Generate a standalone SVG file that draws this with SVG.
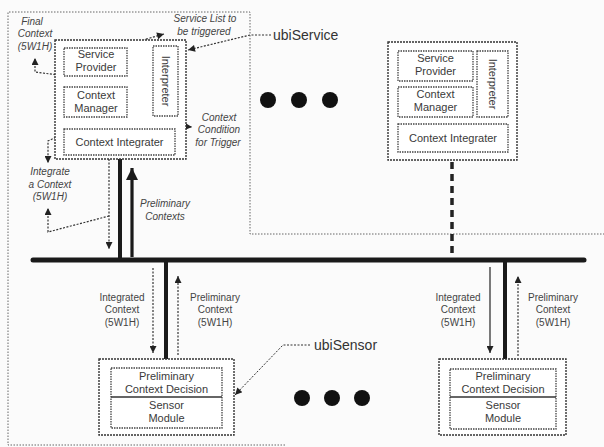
<svg xmlns="http://www.w3.org/2000/svg" width="604" height="447" viewBox="0 0 604 447">
<style>
.frame{fill:none;stroke:#666;stroke-width:1;stroke-dasharray:1.5 1.5}
.box{fill:#fff;stroke:#333;stroke-width:1.4;stroke-dasharray:2 1}
.ibox{fill:#fff;stroke:#444;stroke-width:1.3;stroke-dasharray:1.5 1}
.div{stroke:#333;stroke-width:1.4}
.t{font-family:"Liberation Sans",Arial,sans-serif;font-size:11px;fill:#3a3a3a;text-anchor:middle}
.l{font-family:"Liberation Sans",Arial,sans-serif;font-size:10px;fill:#444;text-anchor:middle}
.i{font-style:italic}
.big{font-family:"Liberation Sans",Arial,sans-serif;font-size:14px;fill:#333}
.dot{fill:#111}
.bus{stroke:#1a1a1a;stroke-width:5;stroke-linecap:round;fill:none}
.thick{stroke:#1a1a1a;stroke-width:4;fill:none}
.up{stroke:#1a1a1a;stroke-width:3.2;fill:none}
.dsh{stroke:#222;stroke-width:3.5;stroke-dasharray:7 5;fill:none}
.dl{stroke:#333;stroke-width:1.2;stroke-dasharray:2 1.5;fill:none}
.thin{stroke:#333;stroke-width:1;stroke-dasharray:2 1.5;fill:none}
.sl{stroke:#333;stroke-width:1.3;fill:none}
</style>
<defs>
<marker id="ah" viewBox="0 0 10 10" refX="10" refY="5" markerWidth="9" markerHeight="7" orient="auto" markerUnits="userSpaceOnUse"><path d="M0,0 L10,5 L0,10 z" fill="#222"/></marker>
<marker id="ahL" viewBox="0 0 10 10" refX="10" refY="5" markerWidth="17" markerHeight="12" orient="auto" markerUnits="userSpaceOnUse"><path d="M0,0 L10,5 L0,10 z" fill="#1a1a1a"/></marker>
<marker id="chev" viewBox="0 0 10 10" refX="9" refY="5" markerWidth="6" markerHeight="6" orient="auto" markerUnits="userSpaceOnUse"><path d="M0,0 L9,5 L0,10" fill="none" stroke="#333" stroke-width="1.5"/></marker>
</defs>
<rect width="604" height="447" fill="#fbfbfb"/>
<path class="frame" d="M285,445 H8 V12 H250 V234 H604"/>

<g id="connectors">
<path class="bus" d="M33,260 H584"/>
<path class="thick" d="M120,159 V260"/>
<path class="thick" d="M166,260 V360"/>
<path class="thick" d="M505,260 V360"/>
<path class="dsh" d="M452,162 V258"/>
<path class="dl" d="M109,159 V249" marker-end="url(#ah)"/>
<path class="up" d="M132,257 V168" marker-end="url(#ahL)"/>
<path class="dl" d="M109,216 L48,232 V208" marker-end="url(#ah)"/>
<path class="dl" d="M97,118 L48,141 V163" marker-end="url(#ah)"/>
<path class="dl" d="M97,80 L35,72 V58" marker-end="url(#ah)"/>
<path class="dl" d="M97,87 V76" marker-end="url(#chev)"/>
<path class="dl" d="M97,129 V118" marker-end="url(#chev)"/>
<path class="sl" d="M153,61 H128" marker-end="url(#ah)"/>
<path class="dl" d="M153,100 H128" marker-end="url(#ah)"/>
<path class="dl" d="M140,100 V124 L192,127" marker-end="url(#ah)"/>
<path class="dl" d="M140,61 V46 Q141,40 150,38 L164,34" marker-end="url(#ah)"/>
<path class="dl" d="M271,35 H250 L188,50" marker-end="url(#ah)"/>
<path class="dl" d="M153,268 V353" marker-end="url(#ah)"/>
<path class="dl" d="M178,355 V276" marker-end="url(#ah)"/>
<path class="sl" d="M490,267 V353" marker-end="url(#ah)"/>
<path class="dl" d="M518,356 V276" marker-end="url(#ah)"/>
<path class="thin" d="M310,345 H283 L235,395" marker-end="url(#ah)"/>
</g>

<g id="ubiService-left">
<rect class="box" x="55" y="40" width="131" height="119"/>
<rect class="ibox" x="64" y="48" width="63" height="28"/>
<text class="t" x="96" y="58">Service</text>
<text class="t" x="96" y="71">Provider</text>
<rect class="ibox" x="64" y="87" width="63" height="30"/>
<text class="t" x="96" y="99">Context</text>
<text class="t" x="96" y="112">Manager</text>
<rect class="ibox" x="153" y="46" width="25" height="70"/>
<text class="t" transform="translate(165.5,81) rotate(90)" y="4">Interpreter</text>
<rect class="ibox" x="64" y="129" width="111" height="26"/>
<text class="t" x="119.5" y="146">Context Integrater</text>
</g>

<g id="ubiService-right">
<rect class="box" x="388" y="42" width="129" height="118"/>
<rect class="ibox" x="398" y="51" width="75" height="30"/>
<text class="t" x="435.5" y="62">Service</text>
<text class="t" x="435.5" y="75">Provider</text>
<rect class="ibox" x="398" y="87" width="75" height="30"/>
<text class="t" x="435.5" y="98">Context</text>
<text class="t" x="435.5" y="111">Manager</text>
<rect class="ibox" x="477" y="51" width="31" height="66"/>
<text class="t" transform="translate(492.5,84) rotate(90)" y="4">Interpreter</text>
<rect class="ibox" x="398" y="124" width="110" height="28"/>
<text class="t" x="453" y="142">Context Integrater</text>
</g>

<g id="ubiSensor-left">
<rect class="box" x="99" y="359" width="135" height="76"/>
<rect class="ibox" x="111" y="368" width="111" height="60"/>
<line class="div" x1="111" y1="397" x2="222" y2="397"/>
<text class="t" x="166.5" y="380">Preliminary</text>
<text class="t" x="166.5" y="393">Context Decision</text>
<text class="t" x="166.5" y="409">Sensor</text>
<text class="t" x="166.5" y="422">Module</text>
</g>

<g id="ubiSensor-right">
<rect class="box" x="439" y="359" width="127" height="76"/>
<rect class="ibox" x="450" y="369" width="106" height="60"/>
<line class="div" x1="450" y1="397" x2="556" y2="397"/>
<text class="t" x="503" y="380">Preliminary</text>
<text class="t" x="503" y="393">Context Decision</text>
<text class="t" x="503" y="409">Sensor</text>
<text class="t" x="503" y="422">Module</text>
</g>

<g id="dots-top">
<circle class="dot" cx="268" cy="100" r="8"/>
<circle class="dot" cx="299" cy="100" r="8"/>
<circle class="dot" cx="330" cy="100" r="8"/>
</g>
<g id="dots-bottom">
<circle class="dot" cx="302" cy="398" r="8"/>
<circle class="dot" cx="332" cy="398" r="8"/>
<circle class="dot" cx="362" cy="398" r="8"/>
</g>

<g id="labels">
<text class="big" x="273" y="40">ubiService</text>
<text class="big" x="314" y="350">ubiSensor</text>
<text class="l i" x="32" y="25">Final</text>
<text class="l i" x="35" y="37">Context</text>
<text class="l i" x="35" y="50">(5W1H)</text>
<text class="l i" x="205" y="22">Service List to</text>
<text class="l i" x="204" y="35">be triggered</text>
<text class="l i" x="219" y="121">Context</text>
<text class="l i" x="219" y="133">Condition</text>
<text class="l i" x="218" y="146">for Trigger</text>
<text class="l i" x="50" y="175">Integrate</text>
<text class="l i" x="50" y="188">a Context</text>
<text class="l i" x="50" y="200">(5W1H)</text>
<text class="l i" x="165" y="207">Preliminary</text>
<text class="l i" x="165" y="220">Contexts</text>
<text class="l" x="122" y="301">Integrated</text>
<text class="l" x="122" y="313">Context</text>
<text class="l" x="122" y="326">(5W1H)</text>
<text class="l" x="215" y="301">Preliminary</text>
<text class="l" x="215" y="313">Context</text>
<text class="l" x="215" y="326">(5W1H)</text>
<text class="l" x="458" y="301">Integrated</text>
<text class="l" x="458" y="313">Context</text>
<text class="l" x="458" y="326">(5W1H)</text>
<text class="l" x="553" y="301">Preliminary</text>
<text class="l" x="553" y="313">Context</text>
<text class="l" x="553" y="326">(5W1H)</text>
</g>
</svg>
